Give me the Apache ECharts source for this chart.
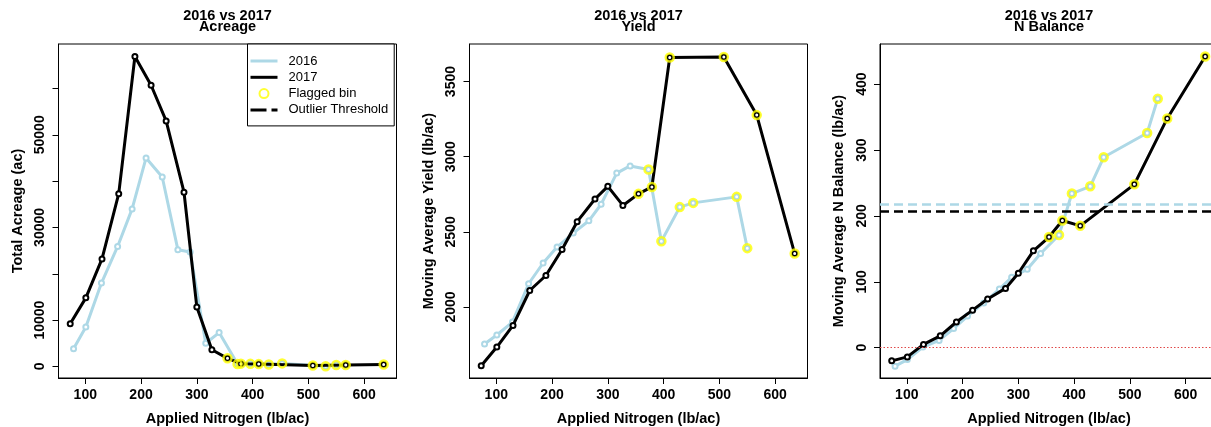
<!DOCTYPE html>
<html>
<head>
<meta charset="utf-8">
<script src="https://cdn.jsdelivr.net/npm/echarts@6/dist/echarts.min.js"></script>
<style>
  html, body { margin: 0; padding: 0; background: #fff; }
  #chart { width: 1211px; height: 427px; }
</style>
</head>
<body>
<div id="chart"></div>
<script>
// applied nitrogen bins (lb/ac)
var n2016 = [79, 101, 129, 158, 184, 209, 238, 266, 288, 316, 340, 373, 396, 429, 453, 531, 550];
var n2017 = [73, 101, 130, 160, 189, 218, 245, 277, 300, 327, 355, 379, 411, 508, 567, 635];

// total acreage (ac)
var acre2016 = [3800, 8500, 18000, 25900, 34000, 45000, 40900, 25200, 24700, 5000, 7300, 500, 550, 400, 650, 50, 300];
var acre2017 = [9200, 14800, 23200, 37300, 66900, 60700, 53000, 37600, 12800, 3600, 1750, 600, 500, 200, 300, 430];

// moving average yield (lb/ac)
var yield2016 = [1754, 1814, 1900, 2155, 2293, 2399, 2492, 2574, 2684, 2891, 2939, 2915, 2438, 2665, 2693, 2733, 2392];
var yield2017 = [1610, 1734, 1878, 2110, 2210, 2383, 2568, 2719, 2803, 2676, 2753, 2799, 3660, 3664, 3277, 2356];

// moving average N balance (lb/ac)
var bal2016 = [-28, -18, 1, 11, 29, 48, 68, 89, 107, 119, 143, 171, 234, 245, 289, 326, 378];
var bal2017 = [-20, -14, 5, 18, 39, 57, 74, 90, 113, 147, 168, 193, 185, 248, 348, 442];

// flagged bins (index into the arrays above)
var flag2016 = [11, 12, 13, 14, 15, 16];
var flag2017 = [10, 11, 12, 13, 14, 15];

// outlier thresholds for N balance
var thresh2016 = 218;
var thresh2017 = 207;

// ticks
var xTicks = [100, 200, 300, 400, 500, 600];
var acreTicks = [0, 10000, 20000, 30000, 40000, 50000, 60000];
var acreLabels = [0, 10000, 30000, 50000];
var yieldTicks = [2000, 2500, 3000, 3500];
var balTicks = [0, 100, 200, 300, 400];

var FONT = '"Liberation Sans", Arial, Helvetica, sans-serif';
var BLUE = '#add8e6';

function pairs(xs, ys) {
  return xs.map(function (x, i) { return [x, ys[i]]; });
}
function flagged(xs, ys, idx) {
  return idx.map(function (i) { return [xs[i], ys[i]]; });
}

var panels = [
  { title: 'Acreage', yName: 'Total Acreage (ac)', y16: acre2016, y17: acre2017, min: -2500, max: 69600, ticks: acreTicks, labels: acreLabels },
  { title: 'Yield', yName: 'Moving Average Yield (lb/ac)', y16: yield2016, y17: yield2017, min: 1528, max: 3750, ticks: yieldTicks, labels: yieldTicks },
  { title: 'N Balance', yName: 'Moving Average N Balance (lb/ac)', y16: bal2016, y17: bal2017, min: -46, max: 461, ticks: balTicks, labels: balTicks }
];
var lefts = [58.5, 469.5, 880];

var titles = [], grids = [], xAxes = [], yAxes = [], series = [];

panels.forEach(function (p, i) {
  titles.push({
    text: '2016 vs 2017\n' + p.title,
    left: lefts[i] + 169, top: 10, padding: 0, textAlign: 'center',
    textStyle: { fontFamily: FONT, fontSize: 14.5, fontWeight: 'bold', color: '#000', lineHeight: 11 }
  });
  grids.push({
    left: lefts[i], top: 44, width: 338, height: 334,
    outerBoundsMode: 'none', containLabel: false,
    show: true, borderColor: '#000', borderWidth: 1, backgroundColor: 'transparent'
  });
  xAxes.push({
    gridIndex: i, type: 'value', min: 52, max: 658,
    name: 'Applied Nitrogen (lb/ac)', nameLocation: 'middle', nameGap: 33,
    nameTextStyle: { fontFamily: FONT, fontSize: 14.5, fontWeight: 'bold', color: '#000' },
    axisLine: { show: true, onZero: false, lineStyle: { color: '#000' } },
    axisTick: { show: true, inside: false, length: 6, lineStyle: { color: '#000' }, customValues: xTicks },
    axisLabel: { customValues: xTicks, fontFamily: FONT, fontSize: 14, fontWeight: 'bold', color: '#000', margin: 10 },
    splitLine: { show: false }
  });
  yAxes.push({
    gridIndex: i, type: 'value', min: p.min, max: p.max,
    name: p.yName, nameLocation: 'middle', nameGap: 33.5,
    nameTextStyle: { fontFamily: FONT, fontSize: 14.5, fontWeight: 'bold', color: '#000' },
    axisLine: { show: true, onZero: false, lineStyle: { color: '#000' } },
    axisTick: { show: true, inside: false, length: 6, lineStyle: { color: '#000' }, customValues: p.ticks },
    axisLabel: {
      customValues: p.labels, rotate: 90, fontFamily: FONT, fontSize: 14, fontWeight: 'bold', color: '#000', margin: 11,
      formatter: function (v) { return String(v); }
    },
    splitLine: { show: false }
  });

  var s16 = {
    name: '2016', type: 'line', xAxisIndex: i, yAxisIndex: i, z: 2,
    data: pairs(n2016, p.y16),
    symbol: 'emptyCircle', symbolSize: 5,
    lineStyle: { color: BLUE, width: 3 },
    itemStyle: { color: BLUE, borderWidth: 2 }
  };
  var s17 = {
    name: '2017', type: 'line', xAxisIndex: i, yAxisIndex: i, z: 3,
    data: pairs(n2017, p.y17),
    symbol: 'emptyCircle', symbolSize: 5,
    lineStyle: { color: '#000', width: 3 },
    itemStyle: { color: '#000', borderWidth: 2 }
  };
  if (i === 2) {
    s16.markLine = {
      silent: true, symbol: ['none', 'none'], label: { show: false },
      lineStyle: { color: BLUE, width: 2.5, type: [9, 5] },
      data: [{ yAxis: thresh2016 }]
    };
    s17.markLine = {
      silent: true, symbol: ['none', 'none'], label: { show: false },
      data: [
        { yAxis: thresh2017, lineStyle: { color: '#000', width: 2.5, type: [9, 5] } },
        { yAxis: 0, lineStyle: { color: '#e04848', width: 1, type: [1.5, 2] } }
      ]
    };
  }
  series.push(s16, s17);
  [[n2016, p.y16, flag2016], [n2017, p.y17, flag2017]].forEach(function (f) {
    series.push({
      name: 'Flagged bin', type: 'scatter', xAxisIndex: i, yAxisIndex: i, z: 4,
      data: flagged(f[0], f[1], f[2]),
      symbol: 'circle', symbolSize: 8,
      itemStyle: { color: 'rgba(0,0,0,0)', borderColor: '#ffff00', borderWidth: 2.5 }
    });
  });
});

// legend-only entry
series.push({
  name: 'Outlier Threshold', type: 'line', xAxisIndex: 0, yAxisIndex: 0, data: [],
  lineStyle: { color: '#000', width: 2.5, type: [9, 5] }, itemStyle: { color: '#000' }
});

var chart = echarts.init(document.getElementById('chart'), null, { renderer: 'canvas' });
chart.setOption({
  animation: false,
  backgroundColor: '#fff',
  title: titles,
  grid: grids,
  xAxis: xAxes,
  yAxis: yAxes,
  legend: {
    left: 247.5, top: 44, orient: 'vertical',
    padding: [9, 6, 8, 3], itemGap: 0.3, itemWidth: 27, itemHeight: 9,
    borderColor: '#000', borderWidth: 1, backgroundColor: '#fff',
    selectedMode: false,
    itemStyle: { borderWidth: 0 },
    textStyle: { fontFamily: FONT, fontSize: 13, color: '#000', lineHeight: 16, padding: [0, 0, 0, 6] },
    data: [
      { name: '2016', icon: 'path://M0,0h27v3h-27z', itemStyle: { color: BLUE, borderWidth: 0 } },
      { name: '2017', icon: 'path://M0,0h27v3h-27z', itemStyle: { color: '#000', borderWidth: 0 } },
      { name: 'Flagged bin', icon: 'circle', itemStyle: { color: 'rgba(0,0,0,0)', borderColor: '#ffff00', borderWidth: 2 } },
      { name: 'Outlier Threshold', icon: 'path://M0,0h16v3h-16z M21,0h6v3h-6z', itemStyle: { color: '#000', borderWidth: 0 } }
    ]
  },
  series: series
});
</script>
</body>
</html>
